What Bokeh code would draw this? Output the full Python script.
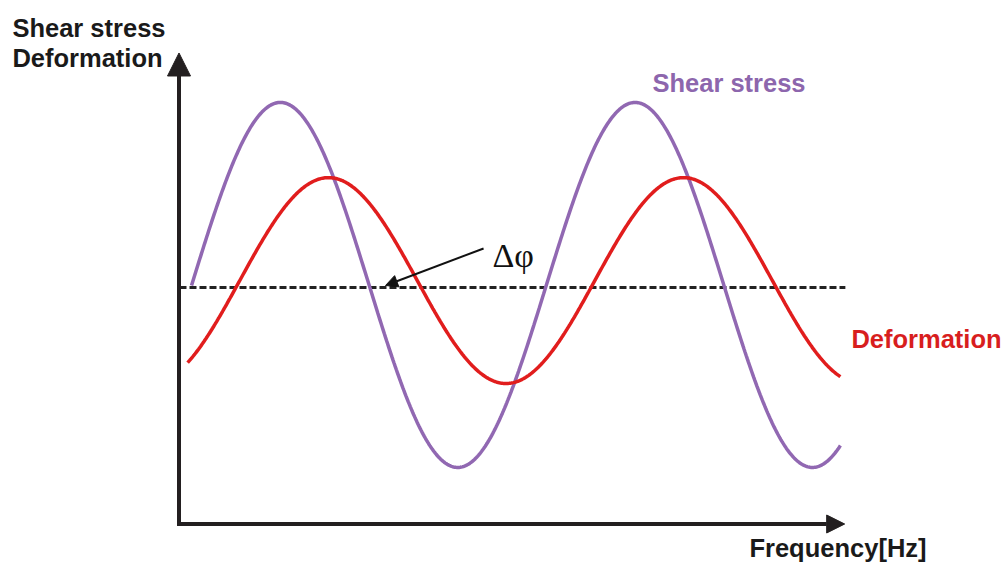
import numpy as np
from bokeh.plotting import figure
from bokeh.models import Range1d, Arrow, NormalHead, ColumnDataSource
from bokeh.core.properties import value
from bokeh.embed import file_html
from bokeh.resources import INLINE

# Wave parameters: amplitude, vertical offset, period, position of first peak, x extent
series_names = ["Shear stress", "Deformation"]
amplitudes = [1.0, 0.564]
offsets = [0.014, 0.038]
periods = [10.02, 10.03]
first_peaks = [2.85, 4.21]
x_starts = [0.34, 0.23]
x_ends = [18.67, 18.67]
colors = ["#9168b2", "#e11d1d"]
label_colors = ["#8d66ad", "#d81e1e"]

# Axis extents (frequency along x, signal along y)
x_axis_end = 18.79
y_axis_bottom = -1.30
y_axis_top = 1.285
baseline_end = 18.81

p = figure(width=1007, height=566, output_backend="svg", toolbar_location=None,
           x_range=Range1d(-5.0565, 23.390), y_range=Range1d(-1.5288, 1.5726),
           x_axis_location=None, y_axis_location=None,
           min_border=0, min_border_left=0, min_border_right=0,
           min_border_top=0, min_border_bottom=0)
p.outline_line_color = None
p.grid.visible = False
p.background_fill_color = "white"
p.border_fill_color = "white"

# Zero line
p.line([0, baseline_end], [0, 0], line_color="#222222", line_width=3, line_dash="7 3")

# Waves
for amp, off, per, pk, xs, xe, col in zip(amplitudes, offsets, periods, first_peaks,
                                          x_starts, x_ends, colors):
    x = np.linspace(xs, xe, 600)
    y = off + amp * np.cos(2 * np.pi * (x - pk) / per)
    p.line(x, y, line_color=col, line_width=3.5)

axis_color = "#231f20"
# y axis with arrow
p.add_layout(Arrow(end=NormalHead(size=23, fill_color=axis_color, line_color=axis_color, line_width=1),
                   x_start=-0.014, y_start=y_axis_bottom, x_end=-0.014, y_end=y_axis_top,
                   line_color=axis_color, line_width=4))
# x axis with arrow
p.add_layout(Arrow(end=NormalHead(size=18, fill_color=axis_color, line_color=axis_color, line_width=1),
                   x_start=-0.07, y_start=-1.296, x_end=x_axis_end, y_end=-1.296,
                   line_color=axis_color, line_width=4))

# Phase shift pointer
p.add_layout(Arrow(end=NormalHead(size=12, fill_color="#111111", line_color="#111111", line_width=1),
                   x_start=8.59, y_start=0.214, x_end=5.82, y_end=0.011,
                   line_color="#111111", line_width=2))

font = value("Liberation Sans")
src_axis = ColumnDataSource(dict(x=[-4.72, -4.72, 16.10],
                                 y=[1.424, 1.255, -1.430],
                                 t=["Shear stress", "Deformation", "Frequency[Hz]"]))
p.text("x", "y", text="t", source=src_axis, text_font=font, text_font_size="25.5px",
       text_font_style="bold", text_color="#1a1a1a", text_align="left",
       text_baseline="alphabetic")

src_series = ColumnDataSource(dict(x=[13.36, 18.98], y=[1.118, -0.280],
                                   t=series_names, c=label_colors))
p.text("x", "y", text="t", source=src_series, text_font=font, text_font_size="25.5px",
       text_font_style="bold", text_color="c", text_align="left",
       text_baseline="alphabetic")

p.text([8.84], [0.175], text=["Δφ"], text_font=value("Liberation Serif"),
       text_font_size="34px", text_color="#111111", text_align="left",
       text_baseline="alphabetic")

open("out.html", "w").write(file_html(p, INLINE))
